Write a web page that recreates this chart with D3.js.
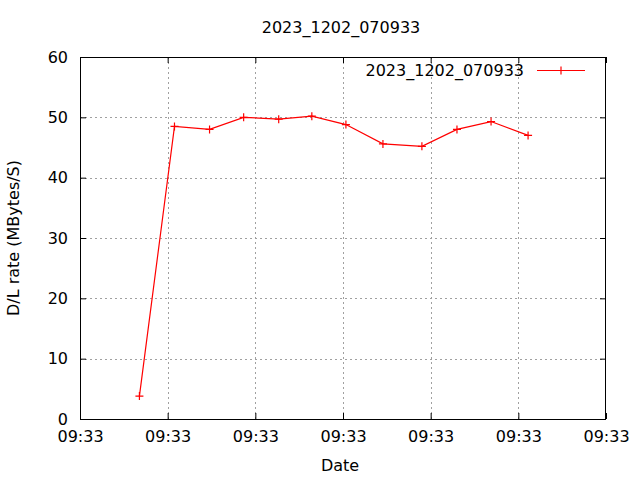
<!DOCTYPE html>
<html><head><meta charset="utf-8">
<script src="https://cdn.jsdelivr.net/npm/d3@7"></script>
<style>body{margin:0;background:#fff}svg{display:block}text{font-family:"DejaVu Sans",sans-serif;fill:#000}</style>
</head><body><svg id="c" width="640" height="480"></svg>
<script>
const title = "2023_1202_070933";
const seriesName = "2023_1202_070933";
const times = ["09:33:06.1","09:33:09.7","09:33:13.3","09:33:16.8","09:33:20.4","09:33:23.8","09:33:27.3","09:33:31.1","09:33:35.1","09:33:38.7","09:33:42.2","09:33:46.0"];
const rates = [3.8, 48.5, 48.0, 50.0, 49.7, 50.2, 48.8, 45.6, 45.2, 48.0, 49.3, 47.0];
const xDomain = ["09:33:00","09:33:54"];
const xTickTimes = ["09:33:00","09:33:09","09:33:18","09:33:27","09:33:36","09:33:45","09:33:54"];
const yTicks = [0,10,20,30,40,50,60];
const xLabel = "Date", yLabel = "D/L rate (MBytes/S)";

const parse = s => { const [h,m,sec] = s.split(":"); return new Date(2023,11,2,+h,+m,0, Math.round(parseFloat(sec)*1000)); };
const L=80, R=606, T=57, B=419;
const svg = d3.select("#c");
const x = d3.scaleTime().domain(xDomain.map(parse)).range([L,R]);
const y = d3.scaleLinear().domain([0,60]).range([B,T]);
const fmt = d3.timeFormat("%H:%M");
const xt = xTickTimes.map(parse);
const fs = 16;

// grid
const g = svg.append("g").attr("stroke","#a0a0a0").attr("stroke-width",1).attr("stroke-dasharray","2,3");
xt.slice(1,-1).forEach(t=>g.append("line").attr("x1",Math.round(x(t))+0.5).attr("x2",Math.round(x(t))+0.5).attr("y1",T).attr("y2",B));
yTicks.slice(1,-1).forEach(v=>g.append("line").attr("y1",Math.round(y(v))+0.5).attr("y2",Math.round(y(v))+0.5).attr("x1",L).attr("x2",R));

// axes via d3
const ax = svg.append("g").attr("transform",`translate(0,${B})`).call(d3.axisBottom(x).tickValues(xt).tickFormat(fmt).tickSizeInner(-6).tickSizeOuter(0).tickPadding(12));
const ay = svg.append("g").attr("transform",`translate(${L},0)`).call(d3.axisLeft(y).tickValues(yTicks).tickSizeInner(-6).tickSizeOuter(0).tickPadding(12));
const axT = svg.append("g").attr("transform",`translate(0,${T})`).call(d3.axisTop(x).tickValues(xt).tickFormat("").tickSizeInner(-6).tickSizeOuter(0));
const ayR = svg.append("g").attr("transform",`translate(${R},0)`).call(d3.axisRight(y).tickValues(yTicks).tickFormat("").tickSizeInner(-6).tickSizeOuter(0));
[ax,ay,axT,ayR].forEach(a=>{a.select(".domain").remove();a.selectAll("line").attr("stroke","#000");a.selectAll("text").attr("font-size",fs).attr("font-family","DejaVu Sans").attr("fill","#000");});
ax.selectAll("text").attr("dy","0.68em");

svg.append("rect").attr("x",L+0.5).attr("y",T+0.5).attr("width",R-L-1).attr("height",B-T).attr("fill","none").attr("stroke","#000").attr("stroke-width",1);

// line
const data = times.map((t,i)=>({t:parse(t),v:rates[i]}));
svg.append("path").datum(data).attr("fill","none").attr("stroke","#f00").attr("stroke-width",1.2)
  .attr("d",d3.line().x(d=>x(d.t)).y(d=>y(d.v)));
const plus = (px,py)=>svg.append("path").attr("d",`M${px-4},${py}H${px+4}M${px},${py-4}V${py+4}`).attr("stroke","#f00").attr("stroke-width",1.2);
data.forEach(d=>plus(x(d.t),y(d.v)));

// texts
svg.append("text").attr("x",341).attr("y",33).attr("text-anchor","middle").attr("font-size",fs).text(title);
svg.append("text").attr("x",340).attr("y",471).attr("text-anchor","middle").attr("font-size",fs).text(xLabel);
svg.append("text").attr("transform","translate(19,238) rotate(-90)").attr("text-anchor","middle").attr("font-size",fs).text(yLabel);
// legend
svg.append("text").attr("x",524).attr("y",76).attr("text-anchor","end").attr("font-size",fs).text(seriesName);
svg.append("line").attr("x1",537).attr("x2",585).attr("y1",70.5).attr("y2",70.5).attr("stroke","#f00").attr("stroke-width",1.2);
plus(561,70.5);
</script></body></html>
